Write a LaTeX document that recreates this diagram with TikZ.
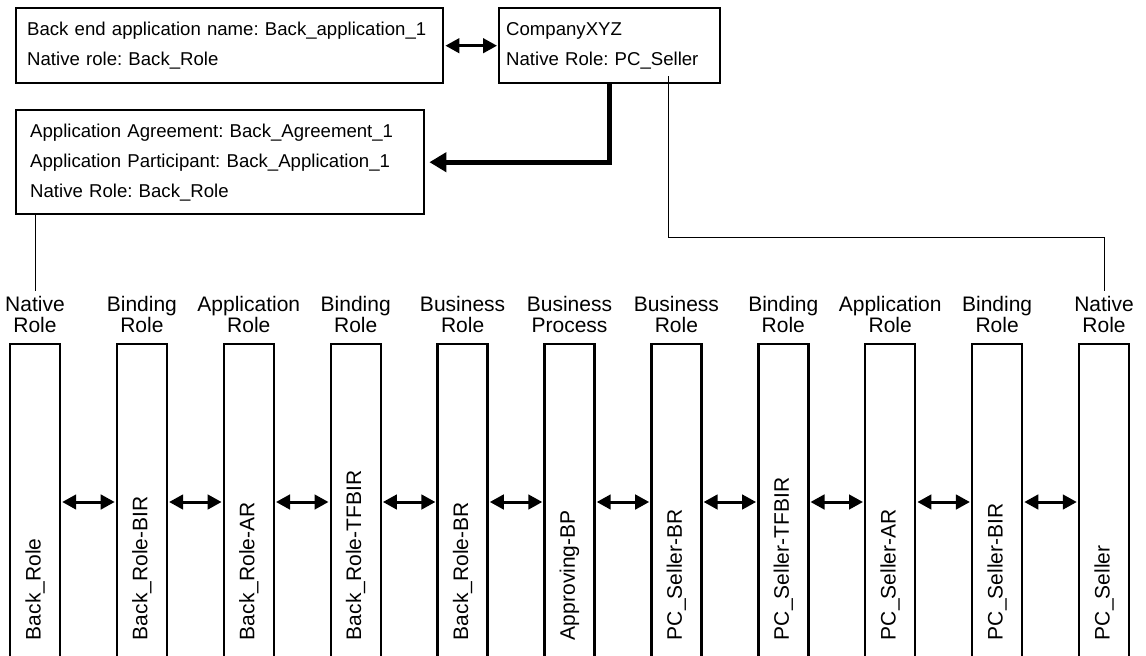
\documentclass[tikz,border=0pt]{standalone}
\usepackage{fontspec}
\setmainfont{Liberation Sans}
\frenchspacing
\usetikzlibrary{arrows.meta}
\tikzset{
  infobox/.style={draw, line width=2.4pt, anchor=north west, align=left, inner ysep=0pt, font=\fontsize{18.6}{30}\selectfont},
  rolebox/.style={draw, line width=2.4pt, rotate=90, minimum width=316pt, minimum height=50pt, inner xsep=20pt, inner ysep=0pt, text width=276pt, align=left, font=\fontsize{21}{25}\selectfont},
  rolehead/.style={anchor=south, align=center, inner sep=0pt, font=\fontsize{21}{21}\selectfont},
  both/.style={{Triangle[length=14pt,width=14.5pt]}-{Triangle[length=14pt,width=14.5pt]}, line width=3pt, shorten >=1pt, shorten <=1pt},
  feed/.style={-{Triangle[length=17pt,width=19pt]}, line width=5pt, shorten >=4pt},
  link/.style={line width=1pt, shorten >=5pt}
}
\begin{document}
\begin{tikzpicture}[x=1pt, y=1pt]
\clip (0,0) rectangle (1146,-656);
\node[infobox, text width=405pt, inner xsep=11pt, minimum height=75pt] (backapp) at (15,-7) {Back end application name: Back\_application\_1\\Native role: Back\_Role};
\node[infobox, text width=207pt, inner xsep=7pt, minimum height=75pt] (company) at (498,-7) {CompanyXYZ\\Native Role: PC\_Seller};
\node[infobox, text width=380pt, inner xsep=14pt, minimum height=104pt] (agreement) at (15,-109) {Application Agreement: Back\_Agreement\_1\\Application Participant: Back\_Application\_1\\Native Role: Back\_Role};
% role columns
\node[rolebox] (backnative) at (35,-502) {Back\_Role};
\node[rolebox] (backbind) at (141.9,-502) {Back\_Role-BIR};
\node[rolebox] (backapprole) at (248.8,-502) {Back\_Role-AR};
\node[rolebox] (backtf) at (355.7,-502) {Back\_Role-TFBIR};
\node[rolebox] (backbiz) at (462.6,-502) {Back\_Role-BR};
\node[rolebox] (process) at (569.5,-502) {Approving-BP};
\node[rolebox] (sellerbiz) at (676.4,-502) {PC\_Seller-BR};
\node[rolebox] (sellertf) at (783.3,-502) {PC\_Seller-TFBIR};
\node[rolebox] (sellerapprole) at (890.2,-502) {PC\_Seller-AR};
\node[rolebox] (sellerbind) at (997.1,-502) {PC\_Seller-BIR};
\node[rolebox] (sellernative) at (1104,-502) {PC\_Seller};
% column headings
\node[rolehead] (backnativehead) at ([yshift=10pt]backnative.east) {Native\\Role};
\node[rolehead] (backbindhead) at ([yshift=10pt]backbind.east) {Binding\\Role};
\node[rolehead] (backapprolehead) at ([yshift=10pt]backapprole.east) {Application\\Role};
\node[rolehead] (backtfhead) at ([yshift=10pt]backtf.east) {Binding\\Role};
\node[rolehead] (backbizhead) at ([yshift=10pt]backbiz.east) {Business\\Role};
\node[rolehead] (processhead) at ([yshift=10pt]process.east) {Business\\Process};
\node[rolehead] (sellerbizhead) at ([yshift=10pt]sellerbiz.east) {Business\\Role};
\node[rolehead] (sellertfhead) at ([yshift=10pt]sellertf.east) {Binding\\Role};
\node[rolehead] (sellerapprolehead) at ([yshift=10pt]sellerapprole.east) {Application\\Role};
\node[rolehead] (sellerbindhead) at ([yshift=10pt]sellerbind.east) {Binding\\Role};
\node[rolehead] (sellernativehead) at ([yshift=10pt]sellernative.east) {Native\\Role};
% connectors
\draw[both] (backapp) -- (company);
\draw[feed] (company.south) |- (agreement.east);
\draw[link] (backnativehead.north |- agreement.south) -- (backnativehead.north);
\draw[link] ([xshift=59pt,yshift=8pt]company.south) |- ([yshift=58pt]sellernativehead.north) -- (sellernativehead.north);
\draw[both] (backnative) -- (backbind);
\draw[both] (backbind) -- (backapprole);
\draw[both] (backapprole) -- (backtf);
\draw[both] (backtf) -- (backbiz);
\draw[both] (backbiz) -- (process);
\draw[both] (process) -- (sellerbiz);
\draw[both] (sellerbiz) -- (sellertf);
\draw[both] (sellertf) -- (sellerapprole);
\draw[both] (sellerapprole) -- (sellerbind);
\draw[both] (sellerbind) -- (sellernative);
\end{tikzpicture}
\end{document}
